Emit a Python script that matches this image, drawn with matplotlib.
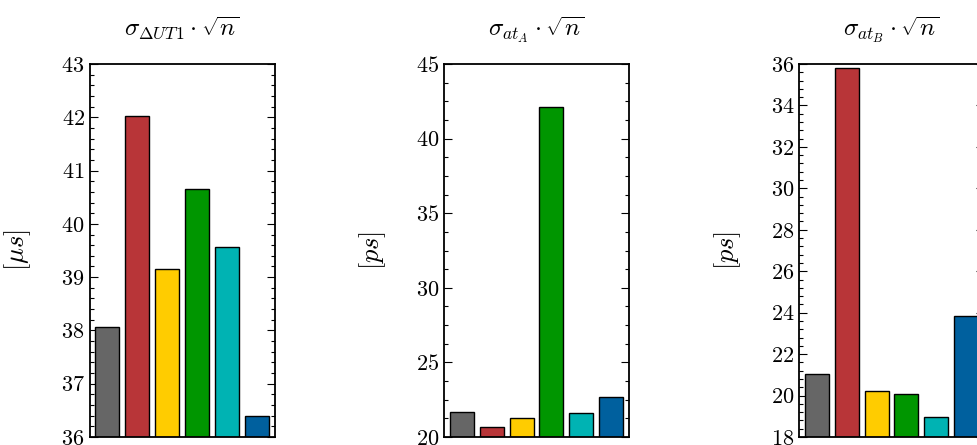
import matplotlib
matplotlib.use("Agg")
import matplotlib.pyplot as plt
from matplotlib.ticker import MultipleLocator

plt.rcParams['font.family'] = 'serif'
plt.rcParams['font.serif'] = ['cmr10', 'DejaVu Serif']
plt.rcParams['mathtext.fontset'] = 'cm'
plt.rcParams['axes.formatter.use_mathtext'] = True

colors = ['#666666', '#b83538', '#ffcc00', '#009600', '#00b3b3', '#00609e']

titles = [r'$\sigma_{\mathit{\Delta UT1}}\cdot\sqrt{n}$',
          r'$\sigma_{at_A}\cdot\sqrt{n}$',
          r'$\sigma_{at_B}\cdot\sqrt{n}$']
ylabels = [r'$[\mu s]$', r'$[ps]$', r'$[ps]$']

ut1_values = [38.06, 42.03, 39.15, 40.65, 39.57, 36.40]
atA_values = [21.68, 20.65, 21.25, 42.12, 21.59, 22.70]
atB_values = [21.04, 35.81, 20.20, 20.09, 18.98, 23.82]

ylims = [(36, 43), (20, 45), (18, 36)]
major_steps = [1, 5, 2]
minor_steps = [0.2, 1.25, 0.4]

W, H = 977, 445
fig = plt.figure(figsize=(W / 100, H / 100), dpi=100)

lefts = [89.5, 444, 799]
ax_w, ax_h = 185, 373
bottom = 8

all_values = [ut1_values, atA_values, atB_values]
for i in range(3):
    ax = fig.add_axes([lefts[i] / W, bottom / H, ax_w / W, ax_h / H])
    vals = all_values[i]
    x = list(range(len(vals)))
    ax.bar(x, vals, width=0.8, color=colors, edgecolor='black', linewidth=1.0, zorder=2)
    ax.set_ylim(*ylims[i])
    ax.set_xlim(-0.6, 5.6)
    ax.set_xticks([])
    ax.yaxis.set_major_locator(MultipleLocator(major_steps[i]))
    ax.yaxis.set_minor_locator(MultipleLocator(minor_steps[i]))
    ax.tick_params(axis='y', which='both', direction='in', left=True, right=True,
                   labelsize=16, width=0.8)
    ax.tick_params(axis='y', which='major', length=6)
    ax.tick_params(axis='y', which='minor', length=3)
    for s in ax.spines.values():
        s.set_linewidth(1.3)
    ax.set_title(titles[i], fontsize=18, pad=20)
    ax.set_ylabel(ylabels[i], fontsize=19)
    ax.yaxis.set_label_coords(-0.305, 0.5)

fig.savefig('out.png', dpi=100)
